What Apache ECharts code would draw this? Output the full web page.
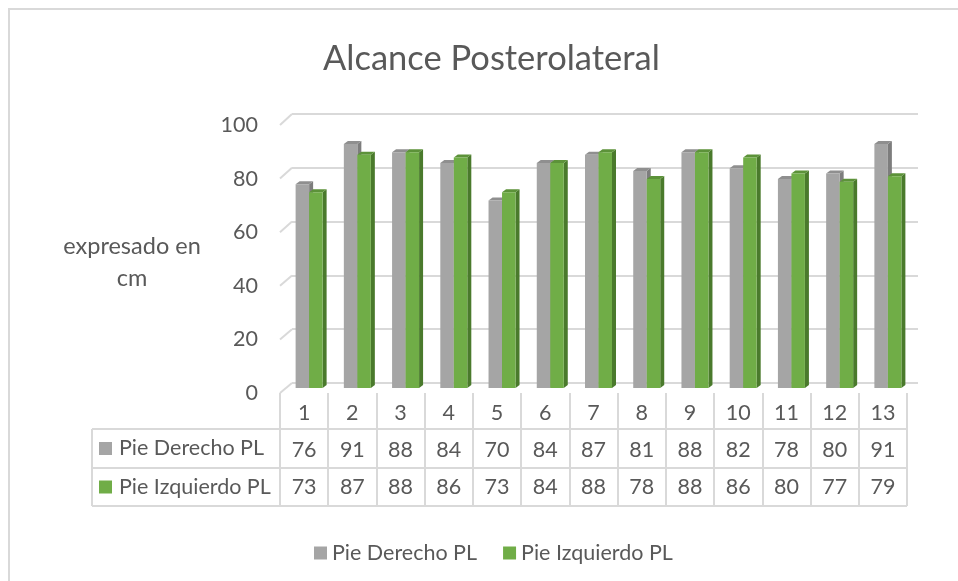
<!DOCTYPE html>
<html>
<head>
<meta charset="utf-8">
<script src="https://cdn.jsdelivr.net/npm/echarts@6/dist/echarts.min.js"></script>
<style>
  html, body { margin: 0; padding: 0; background: #fff; }
  #chart { width: 958px; height: 581px; }
</style>
</head>
<body>
<div id="chart"></div>
<script>
const categories = ['1', '2', '3', '4', '5', '6', '7', '8', '9', '10', '11', '12', '13']
const seriesNames = ['Pie Derecho PL', 'Pie Izquierdo PL']
const derecho = [76, 91, 88, 84, 70, 84, 87, 81, 88, 82, 78, 80, 91]
const izquierdo = [73, 87, 88, 86, 73, 84, 88, 78, 88, 86, 80, 77, 79]
const yTicks = [0, 20, 40, 60, 80, 100]

const FONT = 'Lato, "Liberation Sans", sans-serif'
const FS = 21.5
const TEXT = '#595959'
const LINE = '#d9d9d9'
const faces = [
  { front: '#a5a5a5', side: '#7d7d7d', top: '#8f8f8f' },
  { front: '#70ad47', side: '#4a7a2c', top: '#5c9239' }
]

// front plane, back wall and bar plane (bars sit mid-depth)
const FRONT = { left: 280, right: 51, top: 125, bottom: 188 }
const BACK = { left: 292, right: 40, top: 114, bottom: 198 }
const MID = { left: 285, right: 46, top: 120, bottom: 193 }

const BAR_W = 13.5
const DX = 4
const DY = 3

const makeBar = k => (params, api) => {
  const base = api.coord([api.value(0), 0])
  const top = api.coord([api.value(0), api.value(1)])
  const x = base[0] + (k - 1) * BAR_W
  const y0 = base[1]
  const y1 = top[1]
  const c = faces[k]
  return {
    type: 'group',
    children: [
      { type: 'polygon', shape: { points: [[x + BAR_W, y1], [x + BAR_W + DX, y1 - DY], [x + BAR_W + DX, y0 - DY], [x + BAR_W, y0]] }, style: { fill: c.side } },
      { type: 'polygon', shape: { points: [[x, y1], [x + DX, y1 - DY], [x + BAR_W + DX, y1 - DY], [x + BAR_W, y1]] }, style: { fill: c.top } },
      { type: 'rect', shape: { x: x, y: y1, width: BAR_W, height: y0 - y1 }, style: { fill: c.front } }
    ]
  }
}

const chart = echarts.init(document.getElementById('chart'))

const valueAxis = (gridIndex, extra) => Object.assign({
  type: 'value',
  gridIndex,
  min: 0,
  max: 100,
  interval: 20,
  axisLine: { show: false },
  axisTick: { show: false },
  axisLabel: { show: false },
  splitLine: { show: false }
}, extra)

chart.setOption({
  animation: false,
  textStyle: { fontFamily: FONT },
  title: {
    text: 'Alcance Posterolateral',
    left: 318,
    top: 36,
    textStyle: { color: TEXT, fontSize: 34.5, fontWeight: 'normal', fontFamily: FONT }
  },
  legend: {
    data: seriesNames,
    left: 309,
    top: 537,
    icon: 'rect',
    itemWidth: 13,
    itemHeight: 13,
    itemGap: 26,
    textStyle: { color: TEXT, fontSize: FS, fontFamily: FONT }
  },
  grid: [
    Object.assign({}, FRONT),
    Object.assign({}, BACK),
    Object.assign({}, MID)
  ],
  xAxis: [
    {
      type: 'category',
      gridIndex: 0,
      data: categories,
      axisLine: { show: false },
      axisTick: { show: true, interval: 0, length: 113, lineStyle: { color: LINE, width: 2 } },
      axisLabel: {
        interval: 0,
        margin: 2,
        formatter: (v, i) => `{h|${v}}\n{v|${derecho[i]}}\n{v|${izquierdo[i]}}`,
        rich: {
          h: { fontSize: FS, lineHeight: 37, color: TEXT, fontFamily: FONT },
          v: { fontSize: FS, lineHeight: 37, color: TEXT, fontFamily: FONT }
        }
      },
      splitLine: { show: false }
    },
    { type: 'category', gridIndex: 1, data: categories, show: false },
    { type: 'category', gridIndex: 2, data: categories, show: false }
  ],
  yAxis: [
    valueAxis(0, { axisLabel: { show: true, color: TEXT, fontSize: FS, margin: 22, fontFamily: FONT } }),
    valueAxis(1, { splitLine: { show: true, lineStyle: { color: LINE, width: 2 } } }),
    valueAxis(2)
  ],
  series: [
    {
      name: seriesNames[0],
      type: 'custom',
      xAxisIndex: 2,
      yAxisIndex: 2,
      itemStyle: { color: faces[0].front },
      renderItem: makeBar(0),
      encode: { x: 0, y: 1 },
      data: derecho.map((v, i) => [i, v])
    },
    {
      name: seriesNames[1],
      type: 'custom',
      xAxisIndex: 2,
      yAxisIndex: 2,
      itemStyle: { color: faces[1].front },
      renderItem: makeBar(1),
      encode: { x: 0, y: 1 },
      data: izquierdo.map((v, i) => [i, v])
    }
  ]
})

// decorations: side-wall diagonals, data-table rules and row headers
const graphics = [
  { type: 'rect', shape: { x: 9, y: 9, width: 970, height: 600 }, style: { fill: null, stroke: LINE, lineWidth: 2 }, silent: true }
]
yTicks.forEach(t => {
  const yf = chart.convertToPixel({ yAxisIndex: 0 }, t)
  const yb = chart.convertToPixel({ yAxisIndex: 1 }, t)
  graphics.push({ type: 'line', shape: { x1: FRONT.left, y1: yf, x2: BACK.left, y2: yb }, style: { stroke: LINE, lineWidth: 2 }, silent: true })
})
const tableLeft = 92
const tableRight = 958 - FRONT.right
const rows = [429, 468, 506]
rows.forEach(y => {
  graphics.push({ type: 'line', shape: { x1: tableLeft, y1: y, x2: tableRight, y2: y }, style: { stroke: LINE, lineWidth: 2 }, silent: true })
})
graphics.push({ type: 'line', shape: { x1: tableLeft, y1: rows[0], x2: tableLeft, y2: rows[2] }, style: { stroke: LINE, lineWidth: 2 }, silent: true })
seriesNames.forEach((name, k) => {
  const cy = (rows[k] + rows[k + 1]) / 2
  graphics.push({ type: 'rect', shape: { x: 99, y: cy - 6.5, width: 13, height: 13 }, style: { fill: faces[k].front }, silent: true })
  graphics.push({ type: 'text', x: 119, y: cy, style: { text: name, fill: TEXT, fontSize: FS, fontFamily: FONT, verticalAlign: 'middle' }, silent: true })
})
graphics.push({
  type: 'text', x: 132, y: 262,
  style: { text: 'expresado en\ncm', fill: TEXT, fontSize: 23.5, lineHeight: 32, fontFamily: FONT, align: 'center', verticalAlign: 'middle' },
  silent: true
})
chart.setOption({ graphic: graphics })
</script>
</body>
</html>
